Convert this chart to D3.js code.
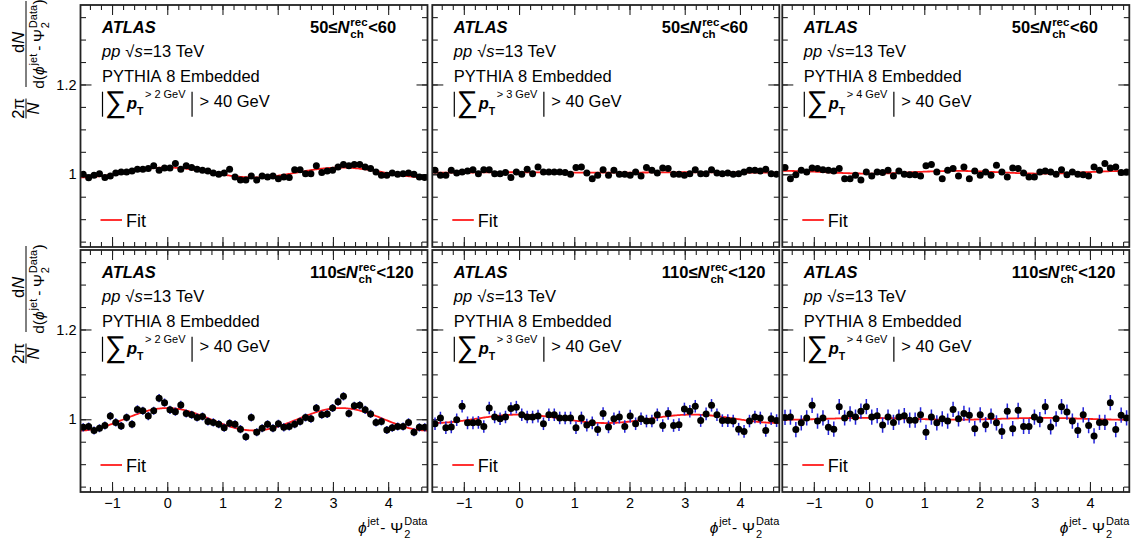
<!DOCTYPE html>
<html><head><meta charset="utf-8">
<script src="https://cdn.jsdelivr.net/npm/d3@7"></script>
<style>
html,body{margin:0;padding:0;background:#fff;}
svg{display:block;}
</style></head>
<body>
<svg id="c" width="1140" height="541"></svg>
<script>
// ---------------- data ----------------
const nBins = 64;
const xTickValues = [-1, 0, 1, 2, 3, 4];
const yTickLabels = [1, 1.2];
const ptThresholds = ["2", "3", "4"];
const nchLow = ["50", "110"];
const nchHigh = ["60", "120"];

const valsTopLeft = [1.000,0.992,0.998,1.001,0.993,0.996,1.003,1.005,1.005,1.007,1.011,1.011,1.013,1.019,1.009,1.014,1.014,1.024,1.011,1.019,1.015,1.011,1.009,1.007,1.003,1.000,1.003,1.011,0.994,0.987,0.987,0.996,0.987,0.996,0.994,0.996,0.990,0.994,0.993,1.010,1.010,1.001,1.001,1.019,1.004,1.007,1.009,1.016,1.022,1.019,1.022,1.022,1.016,1.013,1.005,0.998,0.998,1.003,1.000,1.001,1.003,1.000,0.994,0.993];
const valsTopMid = [1.009,0.998,0.998,1.009,1.003,1.005,1.007,1.010,1.001,1.010,1.010,1.001,1.001,1.004,0.993,1.005,1.000,1.011,1.001,1.016,1.005,1.005,1.005,1.005,1.004,1.000,1.015,1.016,1.003,0.990,0.998,1.010,0.998,1.009,1.000,1.000,0.998,1.005,0.996,1.015,1.009,1.003,1.014,1.013,1.000,1.000,0.998,1.001,1.010,1.001,1.001,1.010,1.003,1.001,1.003,1.000,1.001,1.005,1.009,1.009,1.007,1.011,1.001,1.000];
const valsTopRight = [1.015,0.990,0.999,1.009,1.005,1.014,1.013,1.010,1.009,1.007,1.013,0.990,0.990,0.998,0.987,1.005,0.996,1.005,1.004,1.009,0.996,1.007,1.000,0.999,0.999,0.996,1.019,1.022,1.005,0.990,1.009,1.013,0.996,1.016,0.990,1.007,0.998,1.005,0.998,1.020,1.005,0.994,1.014,1.013,1.003,0.994,0.994,1.005,1.007,1.005,1.000,1.010,0.999,1.005,1.000,0.999,0.996,1.016,1.009,1.024,1.014,1.016,1.004,1.005];
const valsBotLeft = [0.982,0.984,0.975,0.980,0.986,1.007,0.993,0.985,1.004,0.989,1.022,1.019,1.007,1.019,1.047,1.037,1.021,1.017,1.032,1.013,1.010,1.004,1.006,0.995,0.993,0.989,0.981,0.991,0.989,0.978,0.961,1.004,0.971,0.980,0.989,0.980,0.990,0.982,0.984,0.989,0.995,1.004,1.001,1.025,1.010,1.012,1.025,1.039,1.051,1.013,1.030,1.031,1.021,1.012,0.993,0.995,0.976,0.981,0.984,0.984,0.993,0.971,0.982,0.982];
const valsBotMid = [0.990,1.003,0.981,0.983,0.999,1.029,0.992,0.992,0.993,0.984,1.025,1.005,1.001,1.005,1.024,1.027,1.010,1.005,1.005,1.007,0.990,1.010,1.010,1.003,1.003,1.003,0.981,1.003,0.987,0.992,0.977,1.013,0.983,1.001,1.005,0.984,1.007,0.990,1.001,0.996,0.996,1.010,0.986,1.013,0.986,0.988,1.023,1.018,1.029,0.997,1.012,1.031,1.010,0.997,0.997,0.996,0.978,0.973,0.996,1.005,1.003,0.975,1.001,0.997];
const valsBotRight = [1.004,1.005,0.977,0.992,1.003,1.031,0.996,1.003,0.982,0.978,1.028,1.003,1.012,1.005,1.018,1.028,1.005,1.008,0.987,1.005,0.993,1.005,1.008,0.998,0.998,1.010,0.971,1.005,0.992,1.001,0.996,1.022,1.001,1.013,1.009,0.979,1.010,0.988,1.007,0.992,0.973,1.018,0.979,1.020,0.984,0.984,1.005,0.999,1.028,0.983,1.001,1.028,1.016,0.996,0.975,1.010,0.986,0.963,0.993,0.993,1.037,0.977,1.009,1.003];

// statistical uncertainty per panel (row-major)
const errors = [0.002, 0.003, 0.004, 0.009, 0.014, 0.017];
// fit: c + a*cos(2x)
const fitConst = [1.004, 1.004, 1.0045, 1.000, 1.001, 1.001];
const fitAmp   = [0.011, 0.0005, -0.003, 0.025, 0.0094, 0.002];

const panelValues = [valsTopLeft, valsTopMid, valsTopRight, valsBotLeft, valsBotMid, valsBotRight];

// ---------------- layout ----------------
const FONT = "'Liberation Sans', Arial, Helvetica, sans-serif";
const PANEL_X = [80.5, 432.3, 782.3];
const PANEL_W = 347;
const ROW_Y = [5, 250];
const PANEL_H = 242;
const X0 = -Math.PI / 2, X1 = 3 * Math.PI / 2;
const Y_DOMAIN = [0.838, 1.377];

const svg = d3.select("#c");

function rich(parent, x, y, parts, anchor) {
  const g = parent.append("g");
  let cx = 0, lastStart = 0;
  for (const p of parts) {
    const t = g.append("text")
      .attr("font-family", p.family || FONT)
      .attr("font-size", p.size || 16.5)
      .attr("font-weight", p.bold ? "bold" : "normal")
      .attr("font-style", p.italic ? "italic" : "normal")
      .attr("fill", "#000")
      .text(p.t);
    const w = t.node().getComputedTextLength();
    let px;
    if (p.stack) { px = lastStart + (p.dx || 0); cx = Math.max(cx, px + w); }
    else { px = cx + (p.dx || 0); lastStart = px; cx = px + w; }
    t.attr("x", px).attr("y", p.dy || 0);
  }
  const off = anchor === "end" ? -cx : anchor === "middle" ? -cx / 2 : 0;
  g.attr("transform", `translate(${x + off},${y})`);
  return cx;
}

const binW = (X1 - X0) / nBins;

for (let r = 0; r < 2; r++) {
  for (let c = 0; c < 3; c++) {
    const idx = r * 3 + c;
    const x0 = PANEL_X[c], top = ROW_Y[r];
    const x = d3.scaleLinear().domain([X0, X1]).range([x0, x0 + PANEL_W]);
    const y = d3.scaleLinear().domain(Y_DOMAIN).range([top + PANEL_H, top]);
    const g = svg.append("g");

    const clipId = "clip" + idx;
    svg.append("clipPath").attr("id", clipId).append("rect")
      .attr("x", x0).attr("y", top).attr("width", PANEL_W).attr("height", PANEL_H);

    // ticks
    const yMinor = d3.range(0.85, 1.3501, 0.05).map(v => +v.toFixed(2));
    const yMajor = [1.0, 1.2];
    const xMinor = d3.range(-1.4, 4.61, 0.2).map(v => +v.toFixed(1));
    const xMajor = xTickValues;
    const tickStyle = sel => { sel.select(".domain").remove(); sel.selectAll("line").attr("stroke", "#222").attr("stroke-width", 1.1); sel.selectAll("text").remove(); };
    g.append("g").attr("transform", `translate(${x0},0)`).call(d3.axisRight(y).tickValues(yMinor).tickSize(5.5)).call(tickStyle);
    g.append("g").attr("transform", `translate(${x0},0)`).call(d3.axisRight(y).tickValues(yMajor).tickSize(11)).call(tickStyle);
    g.append("g").attr("transform", `translate(${x0 + PANEL_W},0)`).call(d3.axisLeft(y).tickValues(yMinor).tickSize(5.5)).call(tickStyle);
    g.append("g").attr("transform", `translate(${x0 + PANEL_W},0)`).call(d3.axisLeft(y).tickValues(yMajor).tickSize(11)).call(tickStyle);
    g.append("g").attr("transform", `translate(0,${top + PANEL_H})`).call(d3.axisTop(x).tickValues(xMinor).tickSize(5)).call(tickStyle);
    g.append("g").attr("transform", `translate(0,${top + PANEL_H})`).call(d3.axisTop(x).tickValues(xMajor).tickSize(10)).call(tickStyle);
    g.append("g").attr("transform", `translate(0,${top})`).call(d3.axisBottom(x).tickValues(xMinor).tickSize(5)).call(tickStyle);
    g.append("g").attr("transform", `translate(0,${top})`).call(d3.axisBottom(x).tickValues(xMajor).tickSize(10)).call(tickStyle);

    if (c === 0) {
      const ya = g.append("g").attr("transform", `translate(${x0},0)`)
        .call(d3.axisLeft(y).tickValues(yTickLabels).tickSize(0).tickPadding(4)
          .tickFormat(d => d === 1 ? "1" : d3.format(".1f")(d)));
      ya.select(".domain").remove();
      ya.selectAll("text").attr("font-family", FONT).attr("font-size", 14.5).attr("fill", "#000");
    }
    if (r === 1) {
      const xa = g.append("g").attr("transform", `translate(0,${top + PANEL_H})`)
        .call(d3.axisBottom(x).tickValues(xTickValues).tickSize(0).tickPadding(6).tickFormat(d3.format("d")));
      xa.select(".domain").remove();
      xa.selectAll("text").attr("font-family", FONT).attr("font-size", 14.5).attr("fill", "#000");
      rich(g, x0 + PANEL_W, 533, [
        { t: "\u03D5", italic: true, size: 15.5 },
        { t: "jet", size: 11, dy: -8, dx: 1 },
        { t: "-", size: 15.5, dx: 1 },
        { t: "\u03A8", size: 15.5, dx: 5 },
        { t: "2", size: 11, dy: 4.5, dx: 1 },
        { t: "Data", size: 11, dy: -8, stack: true }
      ], "end");
    }

    // data
    const vals = panelValues[idx];
    const pts = vals.map((v, i) => ({ x: X0 + (i + 0.5) * binW, v: v }));
    const dg = g.append("g").attr("clip-path", `url(#${clipId})`);
    const err = errors[idx];

    const fx = d3.range(0, 301).map(i => X0 + i * (X1 - X0) / 300);
    const line = d3.line().x(d => x(d)).y(d => y(fitConst[idx] + fitAmp[idx] * Math.cos(2 * d)));
    dg.append("path").datum(fx).attr("d", line).attr("fill", "none").attr("stroke", "#ff1a1a").attr("stroke-width", 1.8);

    dg.selectAll("line.err").data(pts).join("line").attr("class", "err")
      .attr("x1", d => x(d.x)).attr("x2", d => x(d.x))
      .attr("y1", d => y(d.v - err)).attr("y2", d => y(d.v + err))
      .attr("stroke", "#2323d8").attr("stroke-width", 1.5);
    dg.selectAll("circle").data(pts).join("circle")
      .attr("cx", d => x(d.x)).attr("cy", d => y(d.v)).attr("r", 3.5).attr("fill", "#000");

    g.append("rect").attr("x", x0).attr("y", top).attr("width", PANEL_W).attr("height", PANEL_H)
      .attr("fill", "none").attr("stroke", "#222").attr("stroke-width", 1.8);

    // texts
    const tx = x0 + 21.5;
    rich(g, tx, top + 28, [{ t: "ATLAS", bold: true, italic: true }]);
    rich(g, x0 + 229.5, top + 28, [
      { t: nchLow[r] + "\u2264", bold: true },
      { t: "N", bold: true, italic: true },
      { t: "rec", bold: true, size: 11.5, dy: -7.5, dx: 1 },
      { t: "ch", bold: true, size: 11.5, dy: 5, stack: true },
      { t: "<" + nchHigh[r], bold: true, dx: 0.5 }
    ]);
    rich(g, tx, top + 52.3, [
      { t: "pp", italic: true },
      { t: "\u221A", dx: 5 },
      { t: "s", italic: true },
      { t: "=13", dx: 0.5 },
      { t: "TeV", dx: 4.6 }
    ]);
    rich(g, tx, top + 76.7, [{ t: "PYTHIA" }, { t: "8", dx: 4.6 }, { t: "Embedded", dx: 4.6 }]);

    // |sum pT| > 40 GeV
    const barTop = top + 86.7, barBot = top + 111.7;
    g.append("line").attr("x1", tx + 0.5).attr("x2", tx + 0.5).attr("y1", barTop).attr("y2", barBot)
      .attr("stroke", "#000").attr("stroke-width", 1.2);
    const w = rich(g, tx + 3, top + 107, [
      { t: "\u2211", size: 30 },
      { t: "p", bold: true, italic: true, size: 16.5, dy: -3, dx: 0.5 },
      { t: "T", bold: true, size: 10.5, dy: 3 },
      { t: ">", size: 11, dy: -14, stack: true, dx: 8 },
      { t: ptThresholds[c], size: 11, dy: -14, dx: 3 },
      { t: "GeV", size: 11, dy: -14, dx: 3 }
    ]);
    const bx = tx + 3 + w + 6.5;
    g.append("line").attr("x1", bx).attr("x2", bx).attr("y1", barTop).attr("y2", barBot)
      .attr("stroke", "#000").attr("stroke-width", 1.2);
    rich(g, bx + 7.5, top + 102, [{ t: ">" }, { t: "40", dx: 4.6 }, { t: "GeV", dx: 4.6 }]);

    // legend
    g.append("line").attr("x1", x0 + 20).attr("x2", x0 + 41.5).attr("y1", top + 215).attr("y2", top + 215)
      .attr("stroke", "#ff1a1a").attr("stroke-width", 1.8);
    rich(g, x0 + 45.5, top + 221.7, [{ t: "Fit", size: 18 }]);

    // y axis title
    if (c === 0) {
      const yt = svg.append("g").attr("transform", `translate(0,${top - 5}) rotate(-90)`);
      rich(yt, -108.5, 23.5, [{ t: "2\u03C0", size: 16.5 }], "middle");
      yt.append("line").attr("x1", -118.5).attr("x2", -98.5).attr("y1", 26).attr("y2", 26).attr("stroke", "#000").attr("stroke-width", 1);
      rich(yt, -108.5, 39, [{ t: "N", size: 16.5, italic: true }], "middle");
      rich(yt, -42.5, 23.5, [{ t: "d", size: 16.5 }, { t: "N", size: 16.5, italic: true }], "middle");
      yt.append("line").attr("x1", -87).attr("x2", -1).attr("y1", 26).attr("y2", 26).attr("stroke", "#000").attr("stroke-width", 1);
      rich(yt, -44, 44, [
        { t: "d(", size: 15.5 },
        { t: "\u03D5", size: 15.5, italic: true },
        { t: "jet", size: 11, dy: -7.5, dx: 1 },
        { t: "-", size: 15.5, dx: 3 },
        { t: "\u03A8", size: 15.5, dx: 3.5 },
        { t: "2", size: 11, dy: 5, dx: 1 },
        { t: "Data", size: 11, dy: -7.5, stack: true },
        { t: ")", size: 15.5, dx: 0.5 }
      ], "middle");
    }
  }
}
</script>
</body></html>
